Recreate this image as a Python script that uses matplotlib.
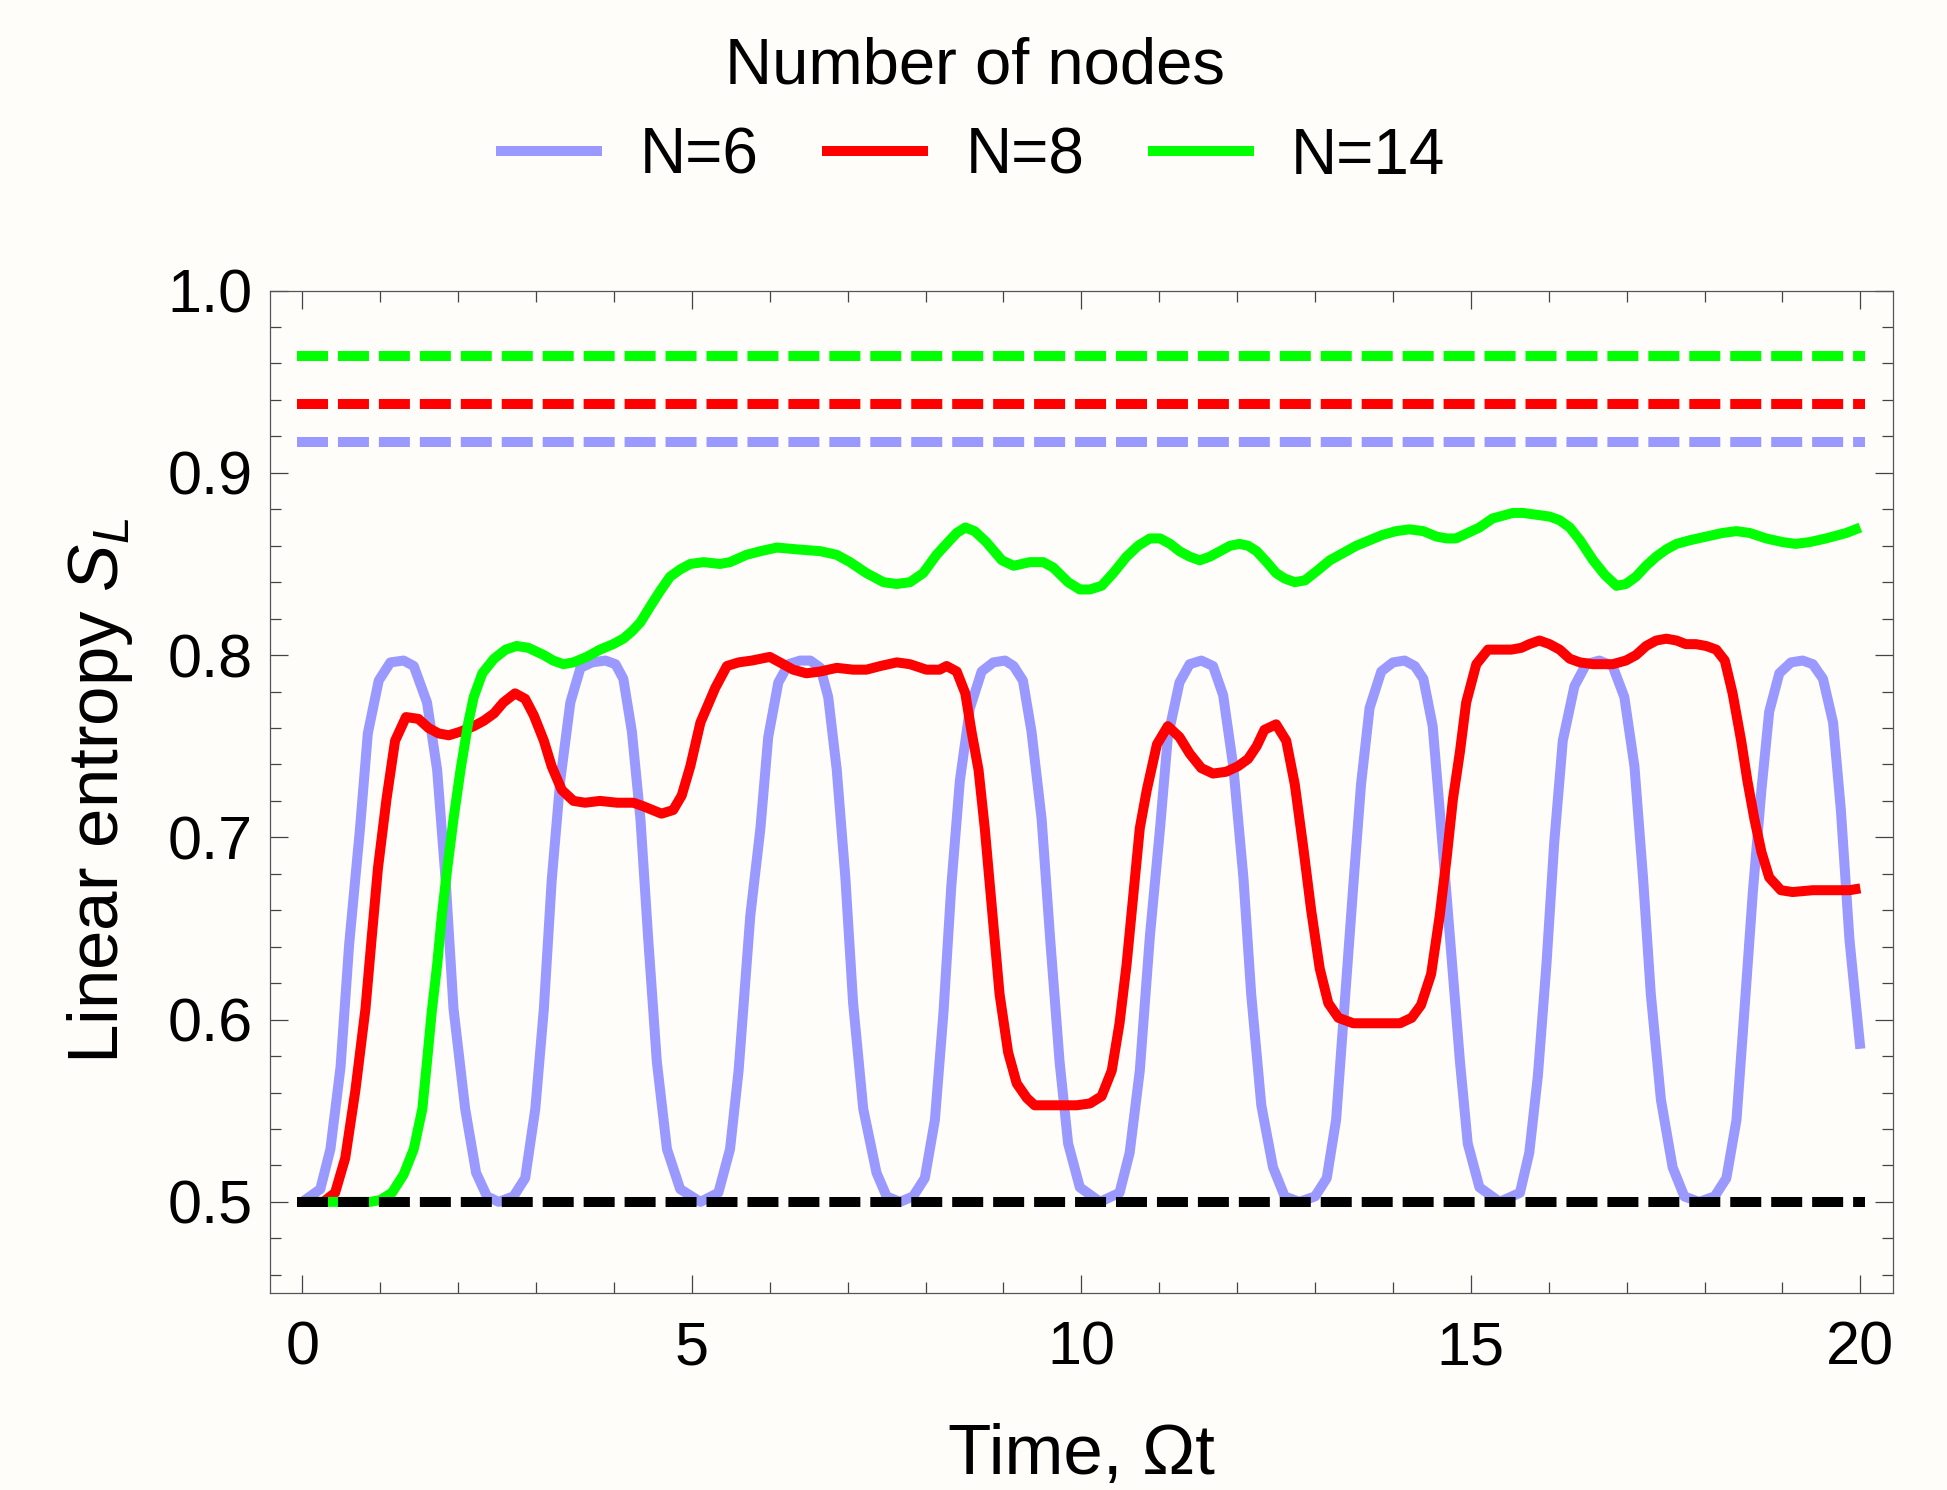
import matplotlib.pyplot as plt

plt.rcParams['font.family'] = 'Liberation Sans'
plt.rcParams['mathtext.fontset'] = 'custom'
plt.rcParams['mathtext.rm'] = 'Liberation Sans'
plt.rcParams['mathtext.it'] = 'Liberation Sans:italic'

# N=6
t6 = [0.00, 0.23, 0.36, 0.49, 0.60, 0.74, 0.84, 0.98, 1.13, 1.30, 1.43, 1.60, 1.73, 1.84, 1.94,
      2.09, 2.23, 2.37, 2.52, 2.71, 2.86, 2.99, 3.10, 3.20, 3.31, 3.44, 3.57, 3.72, 3.89, 4.02,
      4.12, 4.23, 4.34, 4.44, 4.55, 4.68, 4.85, 5.11, 5.34, 5.49, 5.60, 5.75, 5.88, 5.98, 6.11,
      6.24, 6.39, 6.52, 6.65, 6.75, 6.86, 6.97, 7.07, 7.20, 7.37, 7.50, 7.67, 7.84, 7.99, 8.12,
      8.23, 8.33, 8.44, 8.57, 8.72, 8.87, 9.02, 9.13, 9.25, 9.36, 9.49, 9.60, 9.72, 9.83, 9.98,
      10.24, 10.49, 10.62, 10.75, 10.88, 11.01, 11.11, 11.26, 11.39, 11.54, 11.69, 11.82, 11.95,
      12.08, 12.18, 12.31, 12.46, 12.61, 12.80, 13.00, 13.15, 13.27, 13.38, 13.49, 13.59, 13.70,
      13.85, 14.00, 14.15, 14.28, 14.39, 14.51, 14.60, 14.73, 14.86, 14.96, 15.11, 15.37, 15.63,
      15.75, 15.86, 15.97, 16.07, 16.18, 16.33, 16.48, 16.65, 16.82, 16.97, 17.10, 17.21, 17.31,
      17.44, 17.59, 17.74, 17.93, 18.13, 18.28, 18.41, 18.51, 18.62, 18.73, 18.83, 18.96, 19.11,
      19.26, 19.39, 19.52, 19.65, 19.75, 19.86, 20.00]
s6 = [0.500, 0.507, 0.529, 0.574, 0.641, 0.705, 0.757, 0.786, 0.796, 0.797, 0.794, 0.774, 0.737, 0.676, 0.606,
      0.551, 0.516, 0.503, 0.500, 0.503, 0.513, 0.551, 0.606, 0.676, 0.731, 0.774, 0.793, 0.796, 0.797, 0.795,
      0.787, 0.758, 0.710, 0.644, 0.577, 0.529, 0.507, 0.500, 0.505, 0.529, 0.572, 0.657, 0.705, 0.755, 0.785,
      0.795, 0.797, 0.797, 0.793, 0.777, 0.737, 0.678, 0.609, 0.551, 0.516, 0.503, 0.500, 0.503, 0.513, 0.545,
      0.604, 0.673, 0.731, 0.771, 0.791, 0.796, 0.797, 0.794, 0.786, 0.758, 0.710, 0.644, 0.577, 0.532, 0.508,
      0.500, 0.505, 0.527, 0.572, 0.646, 0.705, 0.755, 0.785, 0.795, 0.797, 0.794, 0.778, 0.739,
      0.678, 0.614, 0.553, 0.519, 0.503, 0.500, 0.503, 0.513, 0.545, 0.609, 0.673, 0.729, 0.771,
      0.791, 0.796, 0.797, 0.794, 0.787, 0.761, 0.715, 0.646, 0.577, 0.532, 0.508, 0.500, 0.505,
      0.527, 0.569, 0.630, 0.697, 0.753, 0.783, 0.795, 0.797, 0.794, 0.777, 0.739, 0.678, 0.614,
      0.556, 0.519, 0.503, 0.500, 0.503, 0.513, 0.545, 0.604, 0.670, 0.726, 0.769, 0.790, 0.796,
      0.797, 0.795, 0.787, 0.763, 0.715, 0.644, 0.584]

# N=8
t8 = [0.0, 0.27, 0.42, 0.55, 0.68, 0.81, 0.89, 0.97, 1.08, 1.19, 1.33, 1.49, 1.62, 1.75, 1.88, 2.03,
      2.20, 2.33, 2.46, 2.58, 2.73, 2.86, 2.97, 3.10, 3.20, 3.33, 3.48, 3.63, 3.82, 4.04, 4.25, 4.38,
      4.61, 4.76, 4.87, 4.98, 5.11, 5.30, 5.45, 5.60, 5.77, 6.00, 6.13, 6.30, 6.47, 6.65, 6.86, 7.07,
      7.24, 7.42, 7.63, 7.80, 8.01, 8.18, 8.27, 8.40, 8.51, 8.59, 8.68, 8.76, 8.85, 8.95, 9.06, 9.17,
      9.30, 9.40, 9.64, 9.94, 10.11, 10.26, 10.39, 10.49, 10.58, 10.67, 10.75, 10.84, 10.97, 11.11,
      11.26, 11.39, 11.54, 11.69, 11.86, 12.01, 12.14, 12.25, 12.35, 12.50, 12.63, 12.74, 12.85,
      12.95, 13.06, 13.17, 13.30, 13.49, 13.79, 14.09, 14.24, 14.36, 14.49, 14.60, 14.69, 14.77,
      14.86, 14.94, 15.07, 15.22, 15.37, 15.52, 15.65, 15.75, 15.88, 16.01, 16.14, 16.27, 16.40,
      16.57, 16.82, 16.99, 17.12, 17.25, 17.38, 17.51, 17.64, 17.76, 17.89, 18.02, 18.15, 18.26,
      18.36, 18.47, 18.55, 18.64, 18.73, 18.83, 18.98, 19.13, 19.39, 19.65, 19.86, 20.0]
s8 = [0.500, 0.500, 0.505, 0.524, 0.561, 0.606, 0.645, 0.683, 0.721, 0.753, 0.766, 0.765, 0.760, 0.757, 0.756, 0.758,
      0.761, 0.764, 0.768, 0.774, 0.779, 0.776, 0.767, 0.753, 0.739, 0.726, 0.720, 0.719, 0.720, 0.719, 0.719, 0.717,
      0.713, 0.715, 0.723, 0.739, 0.763, 0.782, 0.794, 0.796, 0.797, 0.799, 0.796, 0.792, 0.790, 0.791, 0.793, 0.792,
      0.792, 0.794, 0.796, 0.795, 0.792, 0.792, 0.794, 0.791, 0.779, 0.758, 0.737, 0.705, 0.662, 0.614, 0.582, 0.565,
      0.557, 0.553, 0.553, 0.553, 0.554, 0.558, 0.572, 0.598, 0.630, 0.670, 0.705, 0.726, 0.751, 0.761,
      0.755, 0.746, 0.738, 0.735, 0.736, 0.739, 0.743, 0.750, 0.759, 0.762, 0.753, 0.729, 0.694,
      0.660, 0.628, 0.609, 0.601, 0.598, 0.598, 0.598, 0.601, 0.608, 0.625, 0.657, 0.689, 0.721,
      0.747, 0.774, 0.795, 0.803, 0.803, 0.803, 0.804, 0.806, 0.808, 0.806, 0.803, 0.798, 0.796,
      0.795, 0.795, 0.797, 0.800, 0.805, 0.808, 0.809, 0.808, 0.806, 0.806, 0.805, 0.803, 0.797,
      0.779, 0.753, 0.731, 0.710, 0.692, 0.678, 0.671, 0.670, 0.671, 0.671, 0.671, 0.672]

# N=14
t14 = [0.0, 0.87, 1.00, 1.15, 1.30, 1.43, 1.54, 1.60, 1.66, 1.73, 1.79, 1.86, 1.94, 2.03, 2.13, 2.20,
       2.31, 2.46, 2.61, 2.75, 2.90, 3.10, 3.22, 3.35, 3.48, 3.65, 3.82, 3.99, 4.12, 4.23, 4.34, 4.47,
       4.59, 4.72, 4.85, 4.98, 5.15, 5.36, 5.49, 5.70, 5.88, 6.09, 6.35, 6.65, 6.86, 7.03, 7.24, 7.46,
       7.63, 7.80, 7.97, 8.14, 8.29, 8.40, 8.51, 8.63, 8.78, 8.98, 9.13, 9.34, 9.51, 9.64, 9.83, 9.98,
       10.11, 10.26, 10.41, 10.58, 10.73, 10.88, 11.01, 11.14, 11.26, 11.39, 11.52, 11.65, 11.78,
       11.91, 12.03, 12.14, 12.25, 12.38, 12.50, 12.61, 12.74, 12.87, 13.02, 13.19, 13.36, 13.53,
       13.70, 13.87, 14.04, 14.21, 14.39, 14.56, 14.69, 14.81, 14.96, 15.11, 15.28, 15.37, 15.54,
       15.67, 15.84, 16.01, 16.14, 16.27, 16.40, 16.57, 16.72, 16.87, 16.99, 17.12, 17.25, 17.38,
       17.51, 17.64, 17.81, 18.02, 18.23, 18.41, 18.58, 18.79, 19.00, 19.17, 19.35, 19.56, 19.82, 20.0]
s14 = [0.500, 0.500, 0.501, 0.505, 0.515, 0.529, 0.551, 0.577, 0.604, 0.630, 0.657, 0.683, 0.710, 0.737, 0.763, 0.777,
       0.790, 0.798, 0.803, 0.805, 0.804, 0.800, 0.797, 0.795, 0.796, 0.799, 0.803, 0.806, 0.809, 0.813, 0.818, 0.827,
       0.835, 0.843, 0.847, 0.850, 0.851, 0.850, 0.851, 0.855, 0.857, 0.859, 0.858, 0.857, 0.855, 0.851, 0.845, 0.840,
       0.839, 0.840, 0.845, 0.855, 0.862, 0.867, 0.870, 0.868, 0.862, 0.852, 0.849, 0.851, 0.851, 0.848, 0.840, 0.836,
       0.836, 0.838, 0.845, 0.854, 0.860, 0.864, 0.864, 0.861, 0.857, 0.854, 0.852, 0.854, 0.857,
       0.860, 0.861, 0.860, 0.857, 0.851, 0.845, 0.842, 0.840, 0.841, 0.846, 0.852, 0.856, 0.860,
       0.863, 0.866, 0.868, 0.869, 0.868, 0.865, 0.864, 0.864, 0.867, 0.870, 0.875, 0.876, 0.878,
       0.878, 0.877, 0.876, 0.874, 0.870, 0.863, 0.852, 0.844, 0.838, 0.839, 0.843, 0.849, 0.854,
       0.858, 0.861, 0.863, 0.865, 0.867, 0.868, 0.867, 0.864, 0.862, 0.861, 0.862, 0.864, 0.867, 0.870]

labels = ["N=6", "N=8", "N=14"]
colors = ["#9999ff", "#ff0000", "#00ff00"]
limits = [0.9167, 0.9375, 0.9643]   # dashed reference levels per N
base_level = 0.5
t_range = [0, 20]

bg = "#fefdfa"
lw = 7.2

fig = plt.figure(figsize=(19.47, 14.90), dpi=100, facecolor=bg)
ax = fig.add_axes([0.1385, 0.1322, 0.8338, 0.6728])
ax.set_facecolor(bg)

lines = []
for t, s, c, lab in zip([t6, t8, t14], [s6, s8, s14], colors, labels):
    ln, = ax.plot(t, s, color=c, lw=lw, label=lab, solid_capstyle="butt",
                  solid_joinstyle="round", zorder=2)
    lines.append(ln)

for lev, c in zip(limits, colors):
    ax.plot(t_range, [lev, lev], color=c, lw=lw, dashes=(2.1, 1.995),
            dash_capstyle="projecting", zorder=3)
ax.plot(t_range, [base_level, base_level], color="black", lw=lw, dashes=(2.1, 1.995),
        dash_capstyle="projecting", zorder=4)

ax.set_xlim(-0.42, 20.42)
ax.set_ylim(0.45, 1.0)
ax.set_xticks([0, 5, 10, 15, 20])
ax.set_xticks(range(0, 21), minor=True)
ax.set_yticks([0.5, 0.6, 0.7, 0.8, 0.9, 1.0])
ax.set_yticklabels(["0.5", "0.6", "0.7", "0.8", "0.9", "1.0"])
ax.set_yticks([0.46 + 0.02 * i for i in range(28)], minor=True)

ax.tick_params(which="both", direction="in", top=True, right=True, color="#444444",
               width=0.9, labelsize=44)
ax.tick_params(which="major", length=13.3)
ax.tick_params(which="minor", length=8.0)
ax.tick_params(axis="x", pad=20)
ax.tick_params(axis="y", pad=12)
for sp in ax.spines.values():
    sp.set_color("#555555")
    sp.set_linewidth(0.9)

fig.text(0.0608, 0.469, "Linear entropy $S_L$", rotation=90, rotation_mode="anchor",
         ha="center", va="baseline", fontsize=51)
fig.text(0.5553, 0.0105, "Time, Ωt", ha="center", va="baseline", fontsize=51)

fig.text(0.501, 0.9441, "Number of nodes", ha="center", va="baseline", fontsize=47)
fig.legend(handles=lines, loc="center", bbox_to_anchor=(0.4987, 0.8948), ncol=3,
           frameon=False, fontsize=46, handlelength=1.65, handletextpad=0.59,
           columnspacing=1.0, borderpad=0)

fig.savefig("out.png", dpi=100, facecolor=bg)
